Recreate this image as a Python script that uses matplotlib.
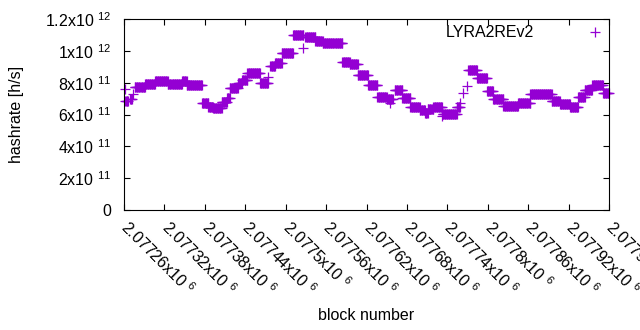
import numpy as np
import matplotlib
matplotlib.use("Agg")
import matplotlib.pyplot as plt

plt.rcParams['font.family'] = ['Liberation Sans', 'DejaVu Sans']
plt.rcParams['mathtext.fontset'] = 'custom'
plt.rcParams['mathtext.rm'] = 'Liberation Sans'
plt.rcParams['mathtext.it'] = 'Liberation Sans:italic'
plt.rcParams['mathtext.bf'] = 'Liberation Sans:bold'

# Runs of consecutive blocks sharing one hashrate value
run_start = [2077261, 2077262, 2077269, 2077274, 2077276, 2077291, 2077306, 2077325,
             2077346, 2077353, 2077376, 2077385, 2077392, 2077405, 2077413, 2077417,
             2077429, 2077435, 2077443, 2077462, 2077474, 2077477, 2077484, 2077494,
             2077511, 2077526, 2077529, 2077544, 2077555, 2077584, 2077595, 2077607,
             2077622, 2077636, 2077650, 2077655, 2077662, 2077673, 2077685, 2077699,
             2077707, 2077711, 2077719, 2077732, 2077733, 2077754, 2077759, 2077763,
             2077769, 2077771, 2077784, 2077799, 2077808, 2077823, 2077845, 2077863,
             2077895, 2077907, 2077922, 2077934, 2077944, 2077955, 2077971]
run_end = [2077261, 2077266, 2077272, 2077274, 2077291, 2077306, 2077325, 2077346,
           2077353, 2077376, 2077385, 2077392, 2077405, 2077413, 2077417, 2077429,
           2077435, 2077443, 2077462, 2077474, 2077474, 2077484, 2077494, 2077511,
           2077526, 2077526, 2077544, 2077555, 2077584, 2077595, 2077607, 2077622,
           2077636, 2077650, 2077659, 2077655, 2077673, 2077685, 2077699, 2077707,
           2077711, 2077719, 2077732, 2077732, 2077754, 2077759, 2077759, 2077763,
           2077769, 2077784, 2077799, 2077808, 2077823, 2077845, 2077863, 2077895,
           2077907, 2077922, 2077934, 2077944, 2077955, 2077971, 2077980]
run_value = [7.6e11, 6.85e11, 7.0e11, 7.3e11, 7.7e11, 7.9e11, 8.08e11, 7.9e11,
             8.1e11, 7.83e11, 6.7e11, 6.5e11, 6.4e11, 6.8e11, 7.04e11, 7.68e11,
             7.98e11, 8.17e11, 8.59e11, 7.96e11, 8.35e11, 9.05e11, 9.25e11, 9.85e11,
             1.098e12, 1.016e12, 1.085e12, 1.064e12, 1.047e12, 9.3e11, 9.2e11, 8.46e11,
             7.83e11, 7.08e11, 6.95e11, 6.7e11, 7.52e11, 7.02e11, 6.45e11, 6.28e11,
             6.11e11, 6.33e11, 6.45e11, 5.9e11, 6.01e11, 6.45e11, 6.74e11, 7.33e11,
             7.8e11, 8.8e11, 8.27e11, 7.49e11, 6.98e11, 6.53e11, 6.7e11, 7.27e11,
             6.85e11, 6.66e11, 6.45e11, 7.12e11, 7.54e11, 7.85e11, 7.33e11]

x_ticks = [2077260, 2077320, 2077380, 2077440, 2077500, 2077560, 2077620,
           2077680, 2077740, 2077800, 2077860, 2077920, 2077980]
x_tick_labels = ["2.07726x10 $^{6}$", "2.07732x10 $^{6}$", "2.07738x10 $^{6}$",
                 "2.07744x10 $^{6}$", "2.0775x10 $^{6}$", "2.07756x10 $^{6}$",
                 "2.07762x10 $^{6}$", "2.07768x10 $^{6}$", "2.07774x10 $^{6}$",
                 "2.0778x10 $^{6}$", "2.07786x10 $^{6}$", "2.07792x10 $^{6}$",
                 "2.07798x10 $^{6}$"]
y_ticks = [0, 2e11, 4e11, 6e11, 8e11, 1e12, 1.2e12]
y_tick_labels = ["0", "2x10 $^{11}$", "4x10 $^{11}$", "6x10 $^{11}$", "8x10 $^{11}$",
                 "1x10 $^{12}$", "1.2x10 $^{12}$"]
series_name = "LYRA2REv2"

xs, ys = [], []
for s, e, v in zip(run_start, run_end, run_value):
    b = np.arange(s, e + 1)
    xs.append(b)
    ys.append(np.full(len(b), v))
xs = np.concatenate(xs)
ys = np.concatenate(ys)

fig = plt.figure(figsize=(6.4, 3.3), dpi=100)
ax = fig.add_axes([124/640, 1 - 210/330, (609-124)/640, (210-19)/330])
color = '#9400D3'
ax.plot(xs, ys, linestyle='none', marker='+', markersize=6.5, mew=0.9,
        color=color, label=series_name, clip_on=False)

ax.set_xlim(2077260, 2077980)
ax.set_ylim(0, 1.2e12)
ax.set_xticks(x_ticks)
ax.set_xticklabels(x_tick_labels, rotation=-45, ha='left', va='center',
                   rotation_mode='anchor', fontsize=11.5)
ax.set_yticks(y_ticks)
ax.set_yticklabels(y_tick_labels, fontsize=11.5)
ax.tick_params(direction='in', length=4.5, width=0.8, top=True, right=True)
ax.tick_params(axis='x', pad=10.5)
ax.tick_params(axis='y', pad=9)
for sp in ax.spines.values():
    sp.set_linewidth(0.8)

ax.set_xlabel("block number", fontsize=11.5)
ax.xaxis.set_label_coords(0.5, (210 - 315) / 191)
ax.xaxis.label.set_verticalalignment('center')
ax.set_ylabel("hashrate [h/s]", fontsize=11.5)
ax.yaxis.set_label_coords((17 - 124) / 485, 0.5)
ax.yaxis.label.set_verticalalignment('center')

ax.legend(loc='upper right', frameon=False, markerfirst=False, numpoints=1,
          handlelength=1.0, handletextpad=3.3, borderaxespad=0.0, borderpad=0.4,
          fontsize=11.5)

fig.savefig("out.png", dpi=100)
